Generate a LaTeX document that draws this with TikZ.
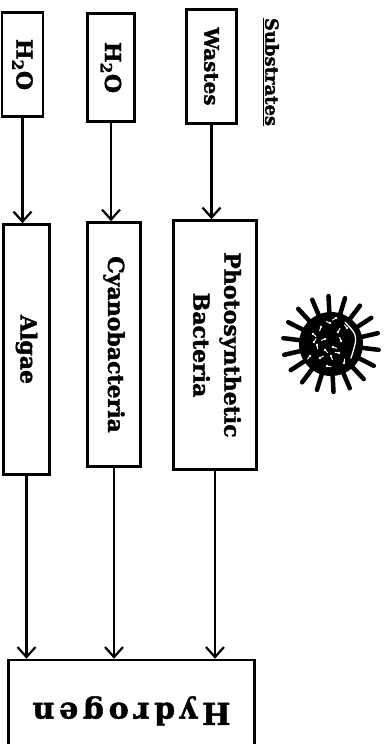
\documentclass[tikz,border=0pt]{standalone}
\usepackage{fontspec}
\setmainfont{DejaVu Serif}[BoldFeatures={FakeBold=1.6}]
\usetikzlibrary{arrows.meta}

\begin{document}
\begin{tikzpicture}[x=1pt,y=-1pt,
  box/.style={draw,line width=2.6pt,inner sep=0pt,
    font=\bfseries\fontsize{22}{31}\selectfont},
  flow/.style={line width=2.2pt,-{Straight Barb[length=10pt,width=18pt,line width=2.2pt]}}]
\useasboundingbox (0,0) rectangle (384,744);

% Bacterium drawing
\def\BX{331};
\def\BY{344};
\def\RB{32};
\def\RS{48};

% Substrates
\node[font=\bfseries\fontsize{18}{20}\selectfont] (subs) at (271,72)
  {\rotatebox{-90}{\underline{Substrates}}};
\node[box,minimum width=41pt,minimum height=104pt] (h2oA) at (22.5,64.5)
  {\rotatebox{-90}{H\textsubscript{2}O}};
\node[box,minimum width=47pt,minimum height=108pt] (h2oB) at (111,67.5)
  {\rotatebox{-90}{H\textsubscript{2}O}};
\node[box,minimum width=50pt,minimum height=114pt,font=\bfseries\fontsize{20}{24}\selectfont] (wastes) at (211.5,66.5)
  {\rotatebox{-90}{Wastes}};

% Organisms
\node[box,minimum width=46pt,minimum height=250pt] (algae) at (26.5,349.5)
  {\rotatebox{-90}{Algae}};
\node[box,minimum width=53pt,minimum height=244pt] (cyano) at (114,344.5)
  {\rotatebox{-90}{Cyanobacteria}};
\node[box,minimum width=83pt,minimum height=249pt] (photo) at (215,345)
  {\rotatebox{-90}{\begin{tabular}{@{}c@{}}Photosynthetic\\Bacteria\end{tabular}}};

% Product
\node[box,minimum width=246pt,minimum height=102pt,font=\bfseries\fontsize{30}{32}\selectfont] (hyd) at (131.5,711)
  {\rotatebox{180}{\addfontfeature{LetterSpace=16}Hydrogen}};

% Arrows
\draw[flow] (h2oA.south) -- (h2oA.south |- algae.north);
\draw[flow] (h2oB.south) -- (h2oB.south |- cyano.north);
\draw[flow] (wastes.south) -- (wastes.south |- photo.north);
\draw[flow] (algae.south) -- (algae.south |- hyd.north);
\draw[flow] (cyano.south) -- (cyano.south |- hyd.north);
\draw[flow] (photo.south) -- (photo.south |- hyd.north);

% Bacterium body and spikes
\foreach \a in {0,20,...,340}
{\draw[line width=4.5pt,line cap=round] ({\BX+(\RB-2)*cos(\a+7)},{\BY+(\RB-2)*sin(\a+7)}) -- ({\BX+\RS*cos(\a+7)},{\BY+\RS*sin(\a+7)});}
\fill[black] (\BX,\BY) circle (\RB);
\draw[white,line width=1.3pt,line cap=round] ({\BX+14},{\BY-22}) .. controls ({\BX+27},{\BY-8}) .. ({\BX+20},{\BY+14});
\foreach \p/\q/\r in {-18/-10/40,-10/-17/110,-1/-21/200,7/-12/300,-14/1/80,-6/-5/160,2/3/20,10/-3/250,-21/12/130,-11/14/330,0/12/70,8/9/190,13/19/280,-4/22/10,5/-26/150,16/-16/230,-17/-2/300,-6/6/45}
{\fill[white] ({\BX+\p},{\BY+\q}) circle (1.4);
\draw[white,line width=1pt,line cap=round] ({\BX+\p},{\BY+\q}) -- ++(\r:4);}
\end{tikzpicture}
\end{document}
